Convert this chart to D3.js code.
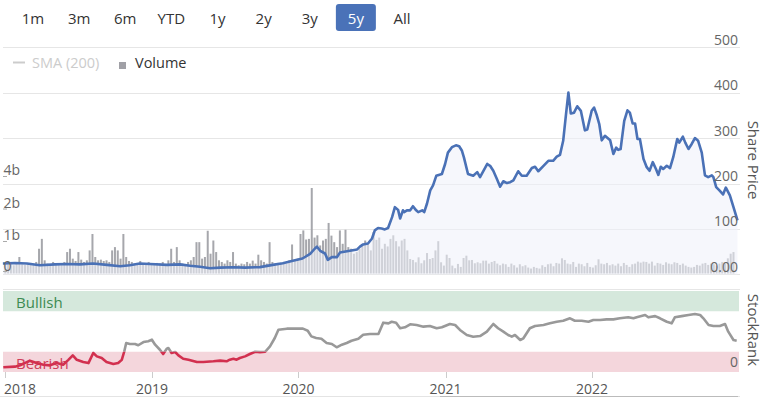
<!DOCTYPE html>
<html><head><meta charset="utf-8">
<script src="https://cdn.jsdelivr.net/npm/d3@7"></script>
<style>body{margin:0;background:#fff;} svg{display:block;font-family:"Open Sans",sans-serif;}</style>
</head><body><svg id="c" width="766" height="398"></svg>
<script>
const rangeButtons = ["1m","3m","6m","YTD","1y","2y","3y","5y","All"];
const selectedRange = "5y";
const priceTicks = [0,100,200,300,400,500];
const volumeTicks = [0,1e9,2e9,4e9];
const volumeTickLabels = ["0","1b","2b","4b"];
const yearTicks = ["2018","2019","2020","2021","2022"];
const legendItems = ["SMA (200)","Volume"];
const rankBandNames = ["Bullish","Bearish"];
const rankBandFrom = [75,0];
const rankBandTo = [100,25];
const rankThreshold = 25;

const priceDates = ["2017-12-26","2018-01-25","2018-02-24","2018-03-28","2018-05-05","2018-06-04","2018-07-06","2018-08-07","2018-09-11","2018-10-14","2018-11-07","2018-12-02","2018-12-27",
"2019-02-08","2019-03-12","2019-04-06","2019-05-01","2019-05-26","2019-06-20","2019-07-22","2019-08-21","2019-09-27","2019-10-29","2019-11-23","2019-12-18",
"2020-01-11","2020-01-30","2020-02-11","2020-02-16","2020-02-24","2020-03-07","2020-03-14","2020-03-24","2020-04-06","2020-04-13","2020-05-01","2020-05-26","2020-06-02","2020-06-10","2020-06-22","2020-07-02","2020-07-09","2020-07-17","2020-07-26","2020-08-03","2020-08-11","2020-08-21","2020-08-28","2020-09-05","2020-09-10","2020-09-17","2020-09-20","2020-09-27","2020-10-05","2020-10-12","2020-10-20","2020-10-25","2020-11-04","2020-11-09","2020-11-16","2020-11-24","2020-12-01","2020-12-09","2020-12-23","2020-12-31",
"2021-01-07","2021-01-17","2021-01-27","2021-02-04","2021-02-11","2021-02-16","2021-02-26","2021-03-11","2021-03-21","2021-03-28","2021-04-15","2021-04-22","2021-04-30","2021-05-09","2021-05-17","2021-05-25","2021-06-03","2021-06-11","2021-06-19","2021-07-01","2021-07-10","2021-07-22","2021-08-04","2021-08-12","2021-08-20","2021-09-02","2021-09-14","2021-09-26","2021-10-05","2021-10-13","2021-10-21","2021-10-28","2021-11-03","2021-11-09","2021-11-17","2021-11-25","2021-12-04","2021-12-14","2021-12-20","2021-12-31",
"2022-01-06","2022-01-12","2022-01-19","2022-01-25","2022-02-02","2022-02-15","2022-02-23","2022-03-02","2022-03-07","2022-03-13","2022-03-22","2022-03-30","2022-04-05","2022-04-12","2022-04-18","2022-04-24","2022-04-30","2022-05-09","2022-05-17","2022-05-24","2022-06-01","2022-06-09","2022-06-15","2022-06-21","2022-06-27","2022-07-06","2022-07-14","2022-07-22","2022-08-01","2022-08-06","2022-08-15","2022-08-21","2022-08-29","2022-09-06","2022-09-14","2022-09-22","2022-10-01","2022-10-09","2022-10-17","2022-10-26","2022-10-30","2022-11-06","2022-11-14","2022-11-23","2022-11-30","2022-12-10","2022-12-19","2022-12-29"];
const priceValues = [24,25,24,20,22,23,22,24,21,18,20,24,23,
21,22,19,17,13.5,15,15.7,15,16,21,24.5,30,
35,45,57,61,52,46,32,38,38,48,51,55,61,66,68,79,97,102,101,99,102,126,148,142,123,141,137,141,141,150,141,137,141,137,156,185,196,217,221,243,
268,280,284,282,272,257,221,217,225,214,243,239,228,210,193,205,201,203,207,227,217,217,234,237,227,239,250,250,259,263,294,352,400,354,356,370,360,317,319,360,
367,352,330,295,305,295,265,279,274,276,338,361,356,332,332,298,298,254,236,228,247,232,219,237,232,239,234,258,298,290,303,290,276,287,300,294,268,218,214,218,214,192,185,176,191,174,148,119];

// weekly volume (millions), first week starting 2018-01-01
const volumeStart = "2018-01-01";
const volume2018 = [320,280,300,250,300,500,280,260,300,320,280,350,750,1050,400,300,280,350,300,260,300,350,650,750,450,380,650,420,350,400,700,1200,500,400,420,380,400,350,700,800,700,450,1200,500,380,350,300,320,380,300,280,350];
const volume2019 = [300,280,320,300,350,280,400,750,350,800,400,300,280,350,400,500,950,950,450,500,1300,600,1000,650,400,350,300,400,350,650,300,250,300,280,350,300,390,300,570,400,350,300,950,350,300,320,300,350,300,400,880,400];
const volume2020 = [450,1200,1310,1030,1050,3230,1090,1160,850,1000,1050,1540,1150,950,800,1310,900,1330,800,750,600,650,750,850,1000,900,700,1260,1020,1090,750,900,820,1050,1160,980,820,1000,1050,700,440,410,340,490,310,400,620,440,470,700,980,340];
const volume2021 = [240,570,470,240,160,290,200,470,540,400,410,310,340,310,390,390,300,350,380,300,250,300,280,200,300,250,180,280,220,250,180,150,200,170,150,250,200,280,300,220,320,300,460,410,300,280,350,200,300,280,220,320];
const volume2022 = [200,180,250,430,300,280,320,250,280,240,300,220,320,260,200,280,300,360,330,360,350,300,360,240,320,300,260,340,300,280,340,320,260,300,240,200,180,200,260,240,300,320,260,300,280,240,300,350,300,460,600,650];

const rankDates = ["2017-12-27","2018-01-25","2018-02-07","2018-03-03","2018-03-20","2018-04-06","2018-04-22","2018-05-09","2018-05-25","2018-06-07","2018-06-18","2018-06-28","2018-07-14","2018-07-27","2018-08-08","2018-08-17","2018-08-29","2018-09-10","2018-09-27","2018-10-09","2018-10-18","2018-10-24","2018-10-29","2018-11-07","2018-11-20","2018-11-28","2018-12-11","2018-12-23",
"2019-01-01","2019-01-09","2019-01-21","2019-01-29","2019-02-07","2019-02-11","2019-02-19","2019-02-28","2019-03-08","2019-03-20","2019-04-02","2019-04-23","2019-05-09","2019-06-03","2019-06-20","2019-07-06","2019-07-14","2019-07-23","2019-07-31","2019-08-08","2019-08-21","2019-09-02","2019-09-15","2019-09-27","2019-10-10","2019-10-22","2019-11-03","2019-11-12","2019-12-03","2019-12-19",
"2020-01-12","2020-01-24","2020-02-02","2020-02-14","2020-02-27","2020-03-11","2020-03-24","2020-04-05","2020-04-18","2020-04-30","2020-05-12","2020-05-29","2020-06-10","2020-06-27","2020-07-18","2020-07-30","2020-08-12","2020-08-20","2020-08-31","2020-09-10","2020-09-22","2020-10-05","2020-10-21","2020-11-07","2020-11-23","2020-12-10","2020-12-23",
"2021-01-12","2021-01-25","2021-02-06","2021-02-23","2021-03-11","2021-03-28","2021-04-14","2021-04-30","2021-05-12","2021-05-25","2021-06-06","2021-06-15","2021-06-23","2021-07-06","2021-07-14","2021-07-30","2021-08-12","2021-09-02","2021-09-18","2021-10-05","2021-10-21","2021-11-07","2021-11-19","2021-12-06","2021-12-23",
"2022-01-04","2022-01-21","2022-02-06","2022-02-23","2022-03-11","2022-04-01","2022-04-14","2022-04-22","2022-05-13","2022-05-21","2022-06-07","2022-06-19","2022-07-06","2022-07-18","2022-07-26","2022-08-12","2022-08-29","2022-09-14","2022-09-27","2022-10-05","2022-10-18","2022-10-30","2022-11-15","2022-11-28","2022-12-06","2022-12-19","2022-12-27"];
const rankValues = [5.8,6.6,8.2,14,11,9,8.2,11,9,15,20.6,15,12.3,11,23.5,19.3,17.3,12.3,9.9,11,15,25,35.8,34.6,34.6,33,37,37.9,
39.9,33.7,27.5,22.2,28.8,29.6,23.5,24.7,20.6,16.4,15.2,12.3,12.3,13.2,14,13.2,15.2,16.4,15.2,17.3,19.3,22.2,25,24.5,25,31.7,42,52.2,53.5,53.5,
53.5,51,44,42,41,35.8,34.6,30.5,33.7,35.8,38.6,41,46,47,47,60.9,60,62,60.9,54,55.2,58.9,58,56,56.8,54,55.2,
59.3,58,51.9,45.7,43.6,44.4,49.8,59.3,54,49.8,45.7,43.6,45.7,39.5,41.6,54,56.8,58,60.1,62,63.3,66.3,63.3,63.3,62,
64.2,64.2,65,65,66.3,67.5,66.3,67.5,70.4,67.5,69,66.3,62,60.1,67.5,69,70.4,71.6,70.4,66.3,58,56.8,56.8,59.3,49.8,39.5,38.6];

const parse = d3.utcParse("%Y-%m-%d");
const svg = d3.select("#c");
const FONT = '"Open Sans", sans-serif';

const x = d3.scaleUtc().domain([parse("2018-01-01"), parse("2023-01-01")]).range([5.3, 738.7]);
const yPrice = d3.scaleLinear().domain([0,500]).range([274.4, 47.2]);
const yVol = d3.scaleLinear().domain(volumeTicks).range([273.5, 240.5, 208, 175.5]);
const yRank = d3.scaleLinear().domain([0,100]).range([372, 291]);

// range selector buttons
const bx = d3.scalePoint().domain(rangeButtons).range([33, 402]);
const btn = svg.append("g");
btn.append("rect").attr("x", bx(selectedRange)-20).attr("y",4).attr("width",40).attr("height",27).attr("rx",3).attr("fill","#4a72b8");
btn.selectAll("text").data(rangeButtons).join("text")
  .attr("x", d=>bx(d)).attr("y",24).attr("text-anchor","middle")
  .attr("font-size",15).attr("fill", d=> d===selectedRange ? "#fff" : "#333").text(d=>d);

// price gridlines
svg.append("g").selectAll("line").data(priceTicks).join("line")
  .attr("x1",3).attr("x2",740)
  .attr("y1", d=>Math.round(yPrice(d))+0.5).attr("y2", d=>Math.round(yPrice(d))+0.5)
  .attr("stroke","#e6e6e6").attr("stroke-width",1);

// legend
const lg = svg.append("g");
lg.append("line").attr("x1",13).attr("x2",25).attr("y1",62.5).attr("y2",62.5).attr("stroke","#ccc").attr("stroke-width",2);
lg.append("text").attr("x",32).attr("y",68).attr("font-size",14.5).attr("fill","#ccc").text(legendItems[0]);
lg.append("rect").attr("x",119).attr("y",62).attr("width",7).attr("height",7).attr("fill","#a0a0a6");
lg.append("text").attr("x",135).attr("y",68).attr("font-size",14.5).attr("fill","#333").text(legendItems[1]);

// volume bars
const volumeValues = [].concat(volume2018, volume2019, volume2020, volume2021, volume2022);
const vStart = parse(volumeStart);
const volData = volumeValues.map((v,i)=>({date:d3.utcDay.offset(vStart, 7*i), v:v*1e6}));
svg.append("g").selectAll("rect").data(volData).join("rect")
  .attr("x", d=>x(d.date)-1).attr("width",2)
  .attr("y", d=>yVol(d.v)).attr("height", d=>yVol(0)-yVol(d.v))
  .attr("fill","#a6a7ac");

// price area + line
const priceData = priceDates.map((d,i)=>({date:parse(d), v:priceValues[i]}));
svg.append("path").datum(priceData)
  .attr("d", d3.area().x(d=>x(d.date)).y0(yPrice(0)).y1(d=>yPrice(d.v)))
  .attr("fill","rgb(239,241,250)").attr("fill-opacity",0.57);
svg.append("path").datum(priceData)
  .attr("d", d3.line().x(d=>x(d.date)).y(d=>yPrice(d.v)))
  .attr("fill","none").attr("stroke","#4a71b6").attr("stroke-width",2.6).attr("stroke-linejoin","round");

// right price axis labels
svg.append("g").selectAll("text").data(priceTicks).join("text")
  .attr("x",738).attr("y", d=>yPrice(d)-2.5).attr("text-anchor","end")
  .attr("font-size",14).attr("fill","#666").text(d=> d===0 ? "0.00" : d3.format("d")(d));

// left volume axis labels
const va = svg.append("g");
va.selectAll("text").data(volumeTicks).join("text")
  .attr("x",3.5).attr("y",(d,i)=>yVol(d)-(i===0?3:0.5))
  .attr("font-size",14).attr("fill","#666").text((d,i)=>volumeTickLabels[i]);
va.selectAll("line").data(volumeTicks).join("line")
  .attr("x1",3).attr("x2",7).attr("y1",(d,i)=>yVol(d)+(i===0?-2:1)).attr("y2",(d,i)=>yVol(d)+(i===0?-2:1))
  .attr("stroke","#aaa").attr("stroke-width",1);

// axis titles
svg.append("text").attr("transform","translate(748,160) rotate(90)").attr("text-anchor","middle")
  .attr("font-size",15).attr("fill","#555").text("Share Price");
svg.append("text").attr("transform","translate(748,330) rotate(90)").attr("text-anchor","middle")
  .attr("font-size",15).attr("fill","#555").text("StockRank");

// rank panel
svg.append("line").attr("x1",3).attr("x2",740).attr("y1",289.5).attr("y2",289.5).attr("stroke","#e6e6e6");
const bandColors = ["#d5e8dc","#f4d6dc"];
const bandText = ["#3d8b52","#cf3d5a"];
svg.append("g").selectAll("rect").data(rankBandNames).join("rect")
  .attr("x",3).attr("width",736)
  .attr("y",(d,i)=>yRank(rankBandTo[i])).attr("height",(d,i)=>yRank(rankBandFrom[i])-yRank(rankBandTo[i]))
  .attr("fill",(d,i)=>bandColors[i]);
svg.append("g").selectAll("text").data(rankBandNames).join("text")
  .attr("x",16).attr("y",(d,i)=>yRank(rankBandTo[i])+ (i===0?17:17.5))
  .attr("font-size",15).attr("fill",(d,i)=>bandText[i]).text(d=>d);
svg.append("text").attr("x",738).attr("y",367).attr("text-anchor","end").attr("font-size",14).attr("fill","#666").text("0");

const defs = svg.append("defs");
const yT = yRank(rankThreshold);
defs.append("clipPath").attr("id","clipLow").append("rect").attr("x",0).attr("y",yT).attr("width",766).attr("height",100);
defs.append("clipPath").attr("id","clipHigh").append("rect").attr("x",0).attr("y",0).attr("width",766).attr("height",yT);
const rankData = rankDates.map((d,i)=>({date:parse(d), v:rankValues[i]}));
const rankLine = d3.line().x(d=>x(d.date)).y(d=>yRank(d.v));
svg.append("path").datum(rankData).attr("d",rankLine).attr("clip-path","url(#clipHigh)")
  .attr("fill","none").attr("stroke","#999").attr("stroke-width",2.6).attr("stroke-linejoin","round");
svg.append("path").datum(rankData).attr("d",rankLine).attr("clip-path","url(#clipLow)")
  .attr("fill","none").attr("stroke","#d2304f").attr("stroke-width",2.6).attr("stroke-linejoin","round");

// x axis
const xa = svg.append("g");
xa.selectAll("line").data(yearTicks).join("line")
  .attr("x1",d=>Math.round(x(parse(d+"-01-01")))+0.5).attr("x2",d=>Math.round(x(parse(d+"-01-01")))+0.5)
  .attr("y1",372).attr("y2",378).attr("stroke","#ccc");
xa.selectAll("text").data(yearTicks).join("text")
  .attr("x",(d,i)=> i===0 ? 4 : x(parse(d+"-01-01")))
  .attr("text-anchor",(d,i)=> i===0 ? "start" : "middle")
  .attr("y",394).attr("font-size",14).attr("fill","#555").text(d=>d);

// scrollbar
svg.append("line").attr("x1",0).attr("x2",740).attr("y1",396.5).attr("y2",396.5).attr("stroke","#e4e4e4");
svg.append("line").attr("x1",440).attr("x2",738).attr("y1",396.5).attr("y2",396.5).attr("stroke","#bbb");
</script></body></html>
